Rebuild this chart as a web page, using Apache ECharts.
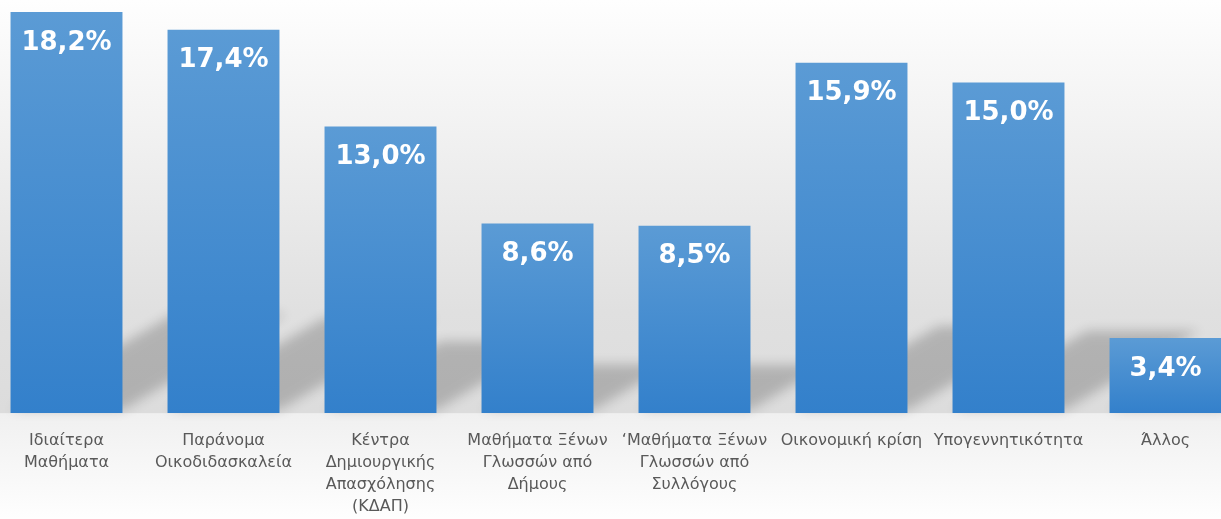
<!DOCTYPE html>
<html>
<head>
<meta charset="utf-8">
<script src="https://cdn.jsdelivr.net/npm/echarts@6/dist/echarts.min.js"></script>
<style>
  html, body { margin: 0; padding: 0; overflow: hidden; width: 1221px; height: 519px; }
  #chart { position: absolute; left: -12px; top: 0; width: 1256px; height: 519px; }
</style>
</head>
<body>
<div id="chart"></div>
<script>
var categories = [
  'Ιδιαίτερα\nΜαθήματα',
  'Παράνομα\nΟικοδιδασκαλεία',
  'Κέντρα\nΔημιουργικής\nΑπασχόλησης\n(ΚΔΑΠ)',
  'Μαθήματα Ξένων\nΓλωσσών από\nΔήμους',
  '‘Μαθήματα Ξένων\nΓλωσσών από\nΣυλλόγους',
  'Οικονομική κρίση',
  'Υπογεννητικότητα',
  'Άλλος'
];
var percents = [18.2, 17.4, 13.0, 8.6, 8.5, 15.9, 15.0, 3.4];

var gapRatio = 0.287;
var far = 4000;

var myChart = echarts.init(document.getElementById('chart'));
var option = {
  backgroundColor: {
    type: 'linear', x: 0, y: 0, x2: 0, y2: 1,
    colorStops: [
      { offset: 0, color: '#fefefe' },
      { offset: 0.6, color: '#e0e0e0' },
      { offset: 0.795, color: '#dcdcdc' },
      { offset: 0.797, color: '#f0f0f0' },
      { offset: 1, color: '#fefefe' }
    ]
  },
  animation: false,
  grid: { left: 0, right: 0, top: 12, bottom: 106 },
  xAxis: {
    type: 'category',
    data: categories,
    axisLine: { show: false },
    axisTick: { show: false },
    axisLabel: {
      interval: 0,
      margin: 17,
      color: '#595959',
      fontFamily: 'DejaVu Sans',
      fontSize: 16,
      lineHeight: 22
    }
  },
  yAxis: {
    type: 'value',
    min: 0,
    max: 18.2,
    show: false,
    splitLine: { show: false }
  },
  series: [
    {
      // blurred perspective shadow behind each bar (shape drawn off-canvas, only its shadow lands here)
      type: 'custom',
      z: 1,
      silent: true,
      clip: false,
      data: percents,
      renderItem: function (params, api) {
        var base = api.coord([api.value(0), 0]);
        var top = api.coord([api.value(0), api.value(1)]);
        var w = api.size([1, 0])[0] * (1 - gapRatio);
        var h = base[1] - top[1];
        var x0 = base[0] - w / 2 - far, x1 = base[0] + w / 2 - far, b = base[1] - 3;
        var sy = h * 0.24, sx = sy * 1.7;
        return {
          type: 'polygon',
          shape: { points: [[x0, b], [x1, b], [x1 + sx, b - sy], [x0 + sx, b - sy]] },
          style: {
            fill: '#000',
            shadowBlur: 12,
            shadowOffsetX: far,
            shadowColor: 'rgba(0,0,0,0.2)'
          }
        };
      },
      encode: { x: 0, y: 1 }
    },
    {
      type: 'bar',
      z: 2,
      data: percents,
      barCategoryGap: (gapRatio * 100) + '%',
      itemStyle: {
        color: new echarts.graphic.LinearGradient(0, 0, 0, 1, [
          { offset: 0, color: '#5b9bd5' },
          { offset: 1, color: '#3380cb' }
        ])
      },
      label: {
        show: true,
        position: 'insideTop',
        distance: 18,
        color: '#ffffff',
        fontFamily: 'DejaVu Sans',
        fontWeight: 'bold',
        fontSize: 26,
        formatter: function (p) {
          return p.value.toFixed(1).replace('.', ',') + '%';
        }
      }
    }
  ]
};
myChart.setOption(option);
</script>
</body>
</html>
